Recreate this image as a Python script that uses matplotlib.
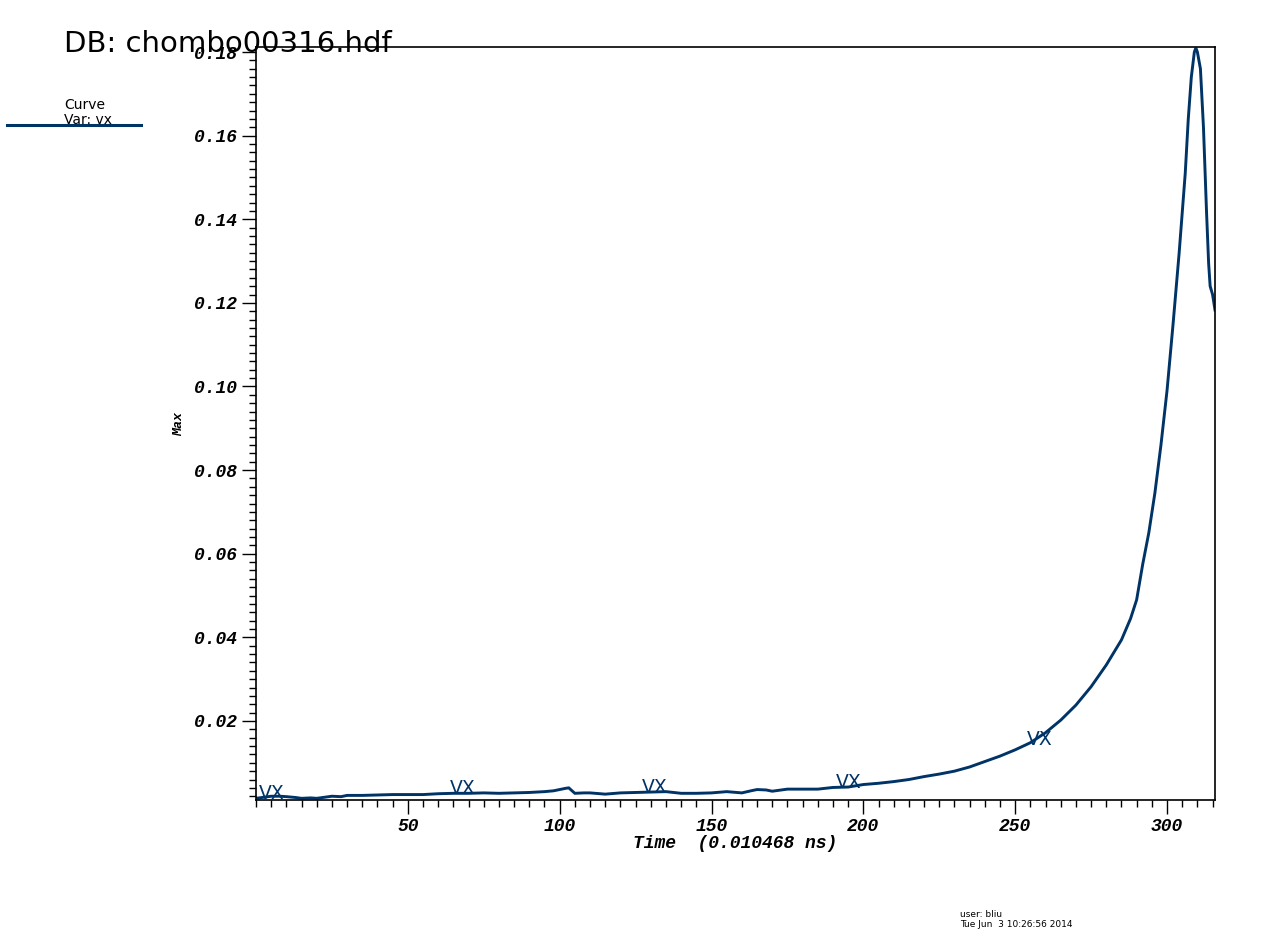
import numpy as np
import matplotlib
matplotlib.use("Agg")
import matplotlib.pyplot as plt
from matplotlib.ticker import MultipleLocator, FuncFormatter

# ---- data ----
time = [0, 3, 5, 8, 10, 13, 15, 18, 20, 23, 25, 28, 30, 35, 40, 45, 50, 55, 60,
        65, 70, 75, 80, 85, 90, 95, 98, 100, 102, 103, 105, 108, 110, 115, 120,
        125, 130, 135, 140, 145, 150, 155, 160, 163, 165, 168, 170, 175, 180,
        185, 190, 195, 200, 205, 210, 215, 220, 225, 230, 235, 240, 245, 250,
        255, 260, 265, 270, 275, 280, 285, 288, 290, 292, 294, 296, 298, 300,
        302, 304, 306, 307, 308, 309, 309.5, 310, 311, 312, 313, 313.7, 314.2,
        315, 315.8]
vx_max = [0.0015, 0.0018, 0.0020, 0.0020, 0.0019, 0.0017, 0.0015, 0.0016, 0.0015,
          0.0018, 0.0020, 0.0019, 0.0022, 0.0022, 0.0023, 0.0024, 0.0024, 0.0024,
          0.0026, 0.0027, 0.0027, 0.0028, 0.0027, 0.0028, 0.0029, 0.0031, 0.0033,
          0.0036, 0.0039, 0.0040, 0.0027, 0.0028, 0.0028, 0.0025, 0.0028, 0.0029,
          0.0030, 0.0031, 0.0027, 0.0027, 0.0028, 0.0031, 0.0028, 0.0033, 0.0036,
          0.0035, 0.0032, 0.0037, 0.0037, 0.0037, 0.0041, 0.0042, 0.0048, 0.0051,
          0.0055, 0.0060, 0.0067, 0.0073, 0.0080, 0.0090, 0.0103, 0.0116, 0.0131,
          0.0148, 0.0172, 0.0202, 0.0238, 0.0282, 0.0334, 0.0394, 0.0445, 0.0490,
          0.0575, 0.0650, 0.0745, 0.0860, 0.0990, 0.1150, 0.1320, 0.1510, 0.1640,
          0.1740, 0.1800, 0.1810, 0.1800, 0.1760, 0.1620, 0.1420, 0.1295, 0.1240,
          0.1220, 0.1183]
label_times = [1, 64, 127, 191, 254]
x_ticks = [50, 100, 150, 200, 250, 300]
y_ticks = [0.02, 0.04, 0.06, 0.08, 0.10, 0.12, 0.14, 0.16, 0.18]

color = "#003366"
mono = dict(family="Liberation Mono", weight="bold", style="italic")

fig = plt.figure(figsize=(12.8, 9.42), dpi=100)
ax = fig.add_axes([256/1280, 1-800/942, (1215-256)/1280, (800-47)/942])
ax.plot(time, vx_max, color=color, lw=2.1, solid_joinstyle="miter")

ax.set_xlim(0, 315.8)
ax.set_ylim(0.0011, 0.1812)
ax.set_xticks(x_ticks)
ax.set_yticks(y_ticks)
ax.xaxis.set_minor_locator(MultipleLocator(5))
ax.yaxis.set_minor_locator(MultipleLocator(0.002))
ax.yaxis.set_major_formatter(FuncFormatter(lambda v, p: f"{v:.2f}"))
ax.xaxis.set_major_formatter(FuncFormatter(lambda v, p: f"{v:g}"))
ax.tick_params(which="major", direction="out", length=10, width=1, color="black")
ax.tick_params(which="minor", direction="out", length=5, width=1, color="black")
ax.tick_params(axis="y", pad=4)
ax.tick_params(axis="x", pad=3)
for lab in ax.get_xticklabels() + ax.get_yticklabels():
    lab.set_fontfamily("Liberation Mono")
    lab.set_fontweight("bold")
    lab.set_fontstyle("italic")
    lab.set_fontsize(13)
for s in ax.spines.values():
    s.set_linewidth(1.2)

ax.set_xlabel("Time  (0.010468 ns)", fontsize=13, labelpad=0, **mono)
ax.set_ylabel("Max", fontsize=9.5, labelpad=6, **mono)

for lt in label_times:
    yv = np.interp(lt, time, vx_max)
    ax.annotate("VX", (lt, yv), xytext=(0, -3.5), textcoords="offset points",
                ha="left", va="bottom", color=color, fontsize=13.5,
                family="DejaVu Sans")

fig.text(64/1280, 1-52/942, "DB: chombo00316.hdf", fontsize=21,
         family="DejaVu Sans", ha="left", va="baseline", color="black")
fig.text(64/1280, 1-109/942, "Curve", fontsize=10, family="DejaVu Sans",
         ha="left", va="baseline")
fig.text(64/1280, 1-124/942, "Var: vx", fontsize=10, family="DejaVu Sans",
         ha="left", va="baseline")
fig.add_artist(plt.Line2D([7/1280, 141/1280], [1-125/942, 1-125/942],
                          color=color, lw=2.2, transform=fig.transFigure))
fig.text(960/1280, 1-917/942, "user: bliu", fontsize=6.5, family="DejaVu Sans",
         ha="left", va="baseline")
fig.text(960/1280, 1-927/942, "Tue Jun  3 10:26:56 2014", fontsize=6.5,
         family="DejaVu Sans", ha="left", va="baseline")

fig.savefig("out.png", dpi=100)
